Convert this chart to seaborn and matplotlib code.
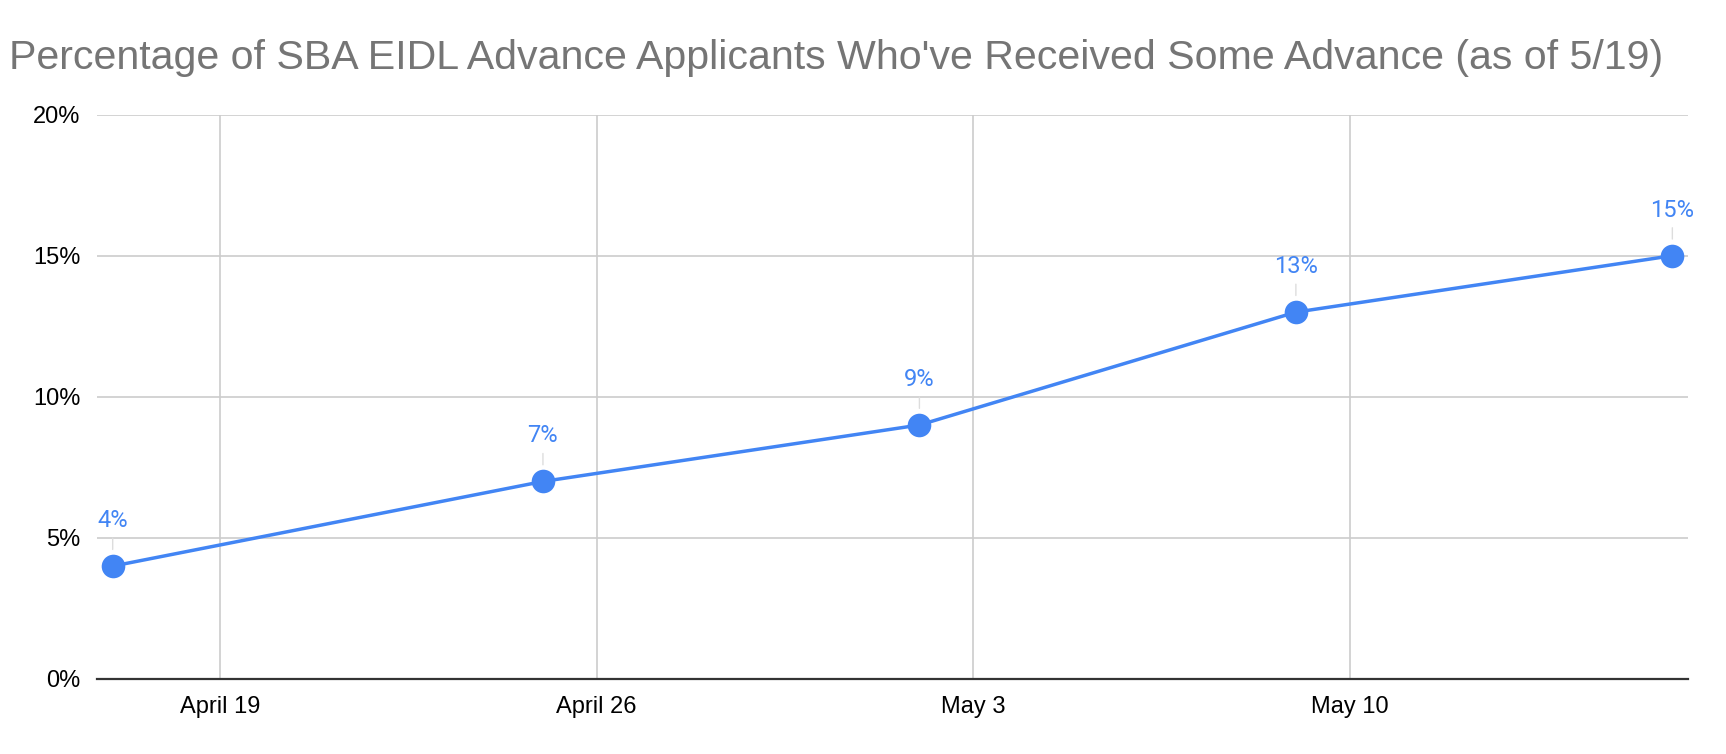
import pandas as pd
import numpy as np
import matplotlib
matplotlib.use("Agg")
import matplotlib.pyplot as plt
from matplotlib.ticker import PercentFormatter
import seaborn as sns

# data
dates = ["2020-04-17", "2020-04-25", "2020-05-02", "2020-05-09", "2020-05-16"]
pct_received = [4, 7, 9, 13, 15]
point_labels = ["4%", "7%", "9%", "13%", "15%"]
tick_dates = ["2020-04-19", "2020-04-26", "2020-05-03", "2020-05-10"]
tick_labels = ["April 19", "April 26", "May 3", "May 10"]
y_ticks = [0, 5, 10, 15, 20]

title = "Percentage of SBA EIDL Advance Applicants Who've Received Some Advance (as of 5/19)"

df = pd.DataFrame({"date": pd.to_datetime(dates), "pct": pct_received})

sns.set_style("whitegrid")
plt.rcParams["font.family"] = ["Liberation Sans", "DejaVu Sans"]

blue = "#4285F4"

fig = plt.figure(figsize=(17.26, 7.54), dpi=100)
ax = fig.add_axes([0.0562, 0.0995, 0.978 - 0.0562, 0.848 - 0.0995])

sns.lineplot(data=df, x="date", y="pct", ax=ax, color=blue, linewidth=2.5,
             marker="o", markersize=17, markeredgewidth=0, zorder=5)

# labels above the points, with a thin leader line
for d, v, lab in zip(df["date"], df["pct"], point_labels):
    ax.annotate(lab, (d, v), xytext=(0, 34), textcoords="offset pixels",
                ha="center", va="bottom", color=blue, fontsize=17,
                family=["Roboto", "DejaVu Sans"],
                arrowprops=dict(arrowstyle="-", color="#dddddd", lw=1,
                                shrinkA=2, shrinkB=12))

pad = pd.Timedelta(hours=7)
ax.set_xlim(df["date"].iloc[0] - pad, df["date"].iloc[-1] + pad)
ax.set_ylim(0, 20)

ax.set_xticks(pd.to_datetime(tick_dates))
ax.set_xticklabels(tick_labels)
ax.set_yticks(y_ticks)
ax.yaxis.set_major_formatter(PercentFormatter(xmax=100, decimals=0))

ax.tick_params(axis="both", length=0, labelsize=17, colors="#000000")
ax.tick_params(axis="x", pad=12)
ax.tick_params(axis="y", pad=12)

ax.grid(True, color="#cccccc", linewidth=1.2)
for s in ["top", "right", "left"]:
    ax.spines[s].set_visible(False)
ax.spines["bottom"].set_color("#333333")
ax.spines["bottom"].set_linewidth(1.6)
ax.spines["bottom"].set_zorder(4)

ax.set_xlabel("")
ax.set_ylabel("")

fig.text(0.005, 0.908, title, fontsize=29.6, color="#757575", ha="left", va="baseline")

fig.savefig("out.png", dpi=100)
